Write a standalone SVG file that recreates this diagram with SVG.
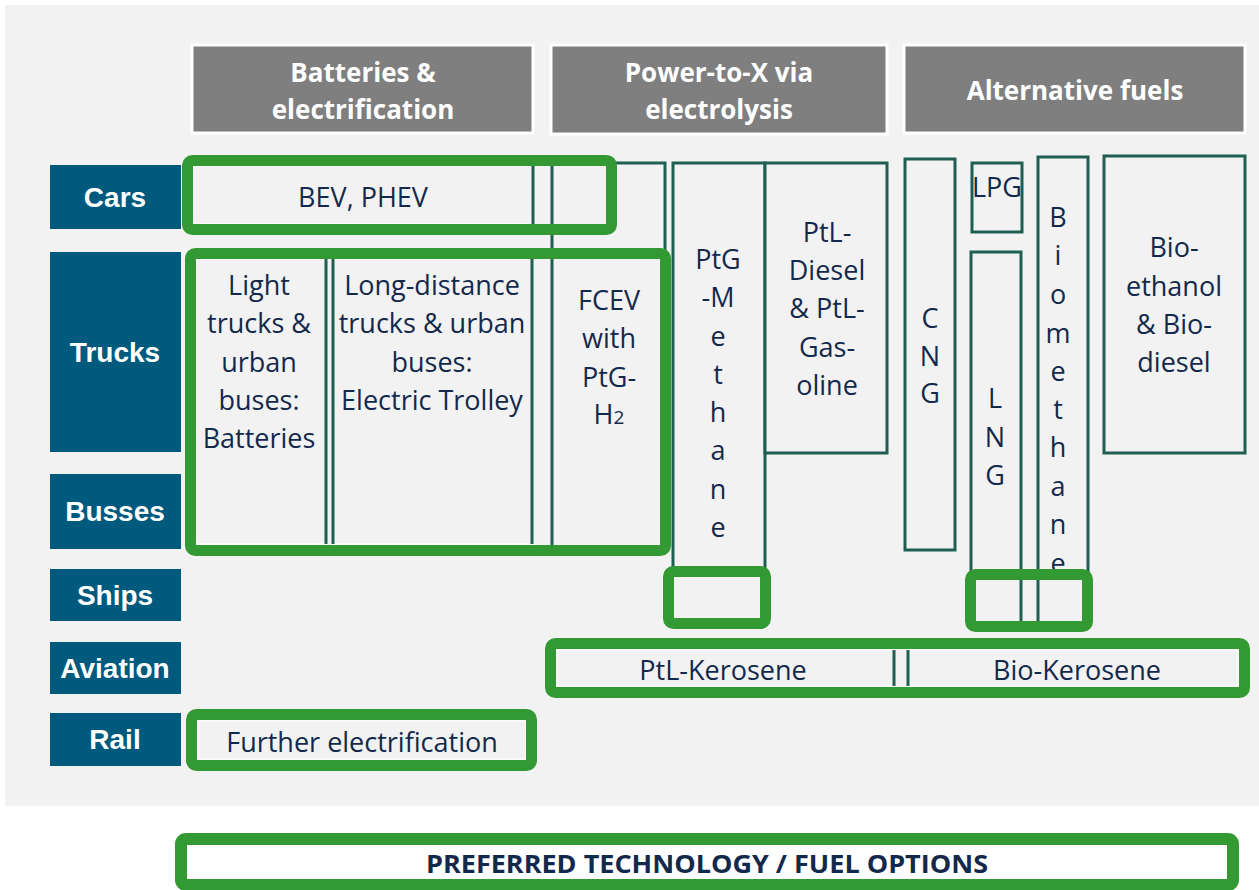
<svg xmlns="http://www.w3.org/2000/svg" width="1259" height="890" viewBox="0 0 1259 890">
<style>
.hdr{fill:#7F7F7F;stroke:#FFFFFF;stroke-width:3}
.hdrt{font-family:"Open Sans","Liberation Sans",sans-serif;font-weight:bold;font-size:26px;fill:#FFFFFF;text-anchor:middle}
.row{fill:#005A7D}
.rowt{font-family:"Liberation Sans",Arial,sans-serif;font-weight:bold;font-size:28px;fill:#FFFFFF;text-anchor:middle}
.cell{fill:#F2F2F2;stroke:#1F5E52;stroke-width:3}
.cellw{fill:#F2F2F2;stroke:#FAFAFA;stroke-width:2}
.edge{stroke:#1F5E52;stroke-width:3;fill:none}
.ct{font-family:"Open Sans","Liberation Sans",sans-serif;font-size:27px;fill:#13294B;text-anchor:middle}
.pref{fill:none;stroke:#339933;stroke-width:11}
</style>
<defs>
<clipPath id="bioclip"><rect x="1030" y="150" width="70" height="419"/></clipPath>
</defs>
<rect x="5" y="5" width="1254" height="801" fill="#F2F2F2"/>

<g id="header-batteries"><rect class="hdr" x="192" y="45" width="341" height="88"/><text class="hdrt"><tspan x="363" y="82">Batteries &amp;</tspan><tspan x="363" y="119">electrification</tspan></text></g>
<g id="header-ptx"><rect class="hdr" x="551" y="45" width="336" height="89"/><text class="hdrt"><tspan x="719" y="82">Power-to-X via</tspan><tspan x="719" y="119">electrolysis</tspan></text></g>
<g id="header-alt"><rect class="hdr" x="904" y="45" width="341" height="88"/><text class="hdrt" x="1075" y="100">Alternative fuels</text></g>

<g id="row-cars"><rect class="row" x="50" y="165" width="131" height="64"/><text class="rowt" x="115" y="207">Cars</text></g>
<g id="row-trucks"><rect class="row" x="50" y="252" width="131" height="200"/><text class="rowt" x="115" y="362">Trucks</text></g>
<g id="row-busses"><rect class="row" x="50" y="474" width="131" height="75"/><text class="rowt" x="115" y="521">Busses</text></g>
<g id="row-ships"><rect class="row" x="50" y="569" width="131" height="52"/><text class="rowt" x="115" y="605">Ships</text></g>
<g id="row-aviation"><rect class="row" x="50" y="642" width="131" height="52"/><text class="rowt" x="115" y="678">Aviation</text></g>
<g id="row-rail"><rect class="row" x="50" y="713" width="131" height="53"/><text class="rowt" x="115" y="749">Rail</text></g>

<g id="cell-fcev"><rect class="cell" x="552" y="163" width="113" height="385"/><text class="ct"><tspan x="609" y="310">FCEV</tspan><tspan x="609" y="348">with</tspan><tspan x="609" y="387">PtG-</tspan><tspan x="609" y="424">H<tspan font-size="19">2</tspan></tspan></text></g>
<g id="cell-bev"><rect class="cellw" x="193" y="166" width="340" height="58"/><line class="edge" x1="533" y1="166" x2="533" y2="224"/><text class="ct" x="363" y="207">BEV, PHEV</text></g>
<g id="cell-light"><rect class="cellw" x="196" y="259" width="130" height="285"/><line class="edge" x1="326" y1="259" x2="326" y2="544"/><text class="ct"><tspan x="259" y="295">Light</tspan><tspan x="259" y="333">trucks &amp;</tspan><tspan x="259" y="372">urban</tspan><tspan x="259" y="410">buses:</tspan><tspan x="259" y="448">Batteries</tspan></text></g>
<g id="cell-long"><rect class="cellw" x="333" y="259" width="199" height="285"/><line class="edge" x1="333" y1="259" x2="333" y2="544"/><line class="edge" x1="532" y1="259" x2="532" y2="544"/><text class="ct"><tspan x="432" y="295">Long-distance</tspan><tspan x="432" y="333">trucks &amp; urban</tspan><tspan x="432" y="372">buses:</tspan><tspan x="432" y="410">Electric Trolley</tspan></text></g>
<g id="cell-ptg-methane"><rect class="cell" x="673" y="163" width="92" height="409"/><text class="ct"><tspan x="718" y="269">PtG</tspan><tspan x="718" y="307">-M</tspan><tspan x="718" y="346">e</tspan><tspan x="718" y="384">t</tspan><tspan x="718" y="422">h</tspan><tspan x="718" y="460">a</tspan><tspan x="718" y="499">n</tspan><tspan x="718" y="537">e</tspan></text></g>
<g id="cell-ptl-diesel"><rect class="cell" x="765" y="163" width="122" height="290"/><text class="ct"><tspan x="827" y="242">PtL-</tspan><tspan x="827" y="280">Diesel</tspan><tspan x="827" y="318">&amp; PtL-</tspan><tspan x="827" y="357">Gas-</tspan><tspan x="827" y="395">oline</tspan></text></g>
<g id="cell-cng"><rect class="cell" x="905" y="159" width="50" height="391"/><text class="ct"><tspan x="930" y="328">C</tspan><tspan x="930" y="366">N</tspan><tspan x="930" y="403">G</tspan></text></g>
<g id="cell-lpg"><rect class="cell" x="972" y="163" width="50" height="69"/><text class="ct" x="997" y="197" font-size="20">LPG</text></g>
<g id="cell-lng"><rect class="cell" x="971" y="252" width="50" height="372"/><text class="ct"><tspan x="995" y="408">L</tspan><tspan x="995" y="447">N</tspan><tspan x="995" y="485">G</tspan></text></g>
<g id="cell-biomethane"><rect class="cell" x="1038" y="157" width="50" height="467"/><text class="ct" clip-path="url(#bioclip)"><tspan x="1058" y="227">B</tspan><tspan x="1058" y="265">i</tspan><tspan x="1058" y="304">o</tspan><tspan x="1058" y="343">m</tspan><tspan x="1058" y="381">e</tspan><tspan x="1058" y="419">t</tspan><tspan x="1058" y="457">h</tspan><tspan x="1058" y="496">a</tspan><tspan x="1058" y="534">n</tspan><tspan x="1058" y="573">e</tspan></text></g>
<g id="cell-bioethanol"><rect class="cell" x="1104" y="156" width="141" height="297"/><text class="ct"><tspan x="1174" y="257">Bio-</tspan><tspan x="1174" y="296">ethanol</tspan><tspan x="1174" y="334">&amp; Bio-</tspan><tspan x="1174" y="372">diesel</tspan></text></g>
<g id="cell-ptl-kerosene"><rect class="cellw" x="557" y="650" width="337" height="36"/><line class="edge" x1="894" y1="650" x2="894" y2="686"/><text class="ct" x="723" y="680">PtL-Kerosene</text></g>
<g id="cell-bio-kerosene"><rect class="cellw" x="908" y="650" width="330" height="36"/><line class="edge" x1="908" y1="650" x2="908" y2="686"/><text class="ct" x="1077" y="680">Bio-Kerosene</text></g>
<g id="cell-rail"><rect class="cellw" x="198" y="721" width="328" height="38"/><text class="ct" x="362" y="752">Further electrification</text></g>

<g id="preferred-highlights">
<rect class="pref" x="187.5" y="160.5" width="424" height="69" rx="5"/>
<rect class="pref" x="190.5" y="253.5" width="475" height="297" rx="5"/>
<rect class="pref" x="668.5" y="571.5" width="97" height="52" rx="5"/>
<rect class="pref" x="970.5" y="574.5" width="117" height="52" rx="5"/>
<rect class="pref" x="550.5" y="643.5" width="694" height="49" rx="5"/>
<rect class="pref" x="191.5" y="714.5" width="340" height="51" rx="5"/>
</g>

<g id="legend">
<rect x="181" y="839" width="1052" height="46" rx="5" fill="#FFFFFF" stroke="#339933" stroke-width="12"/>
<text x="707" y="873" font-family="'Open Sans','Liberation Sans',sans-serif" font-weight="bold" font-size="25" fill="#13294B" text-anchor="middle" textLength="562" lengthAdjust="spacingAndGlyphs">PREFERRED TECHNOLOGY / FUEL OPTIONS</text>
</g>
</svg>
